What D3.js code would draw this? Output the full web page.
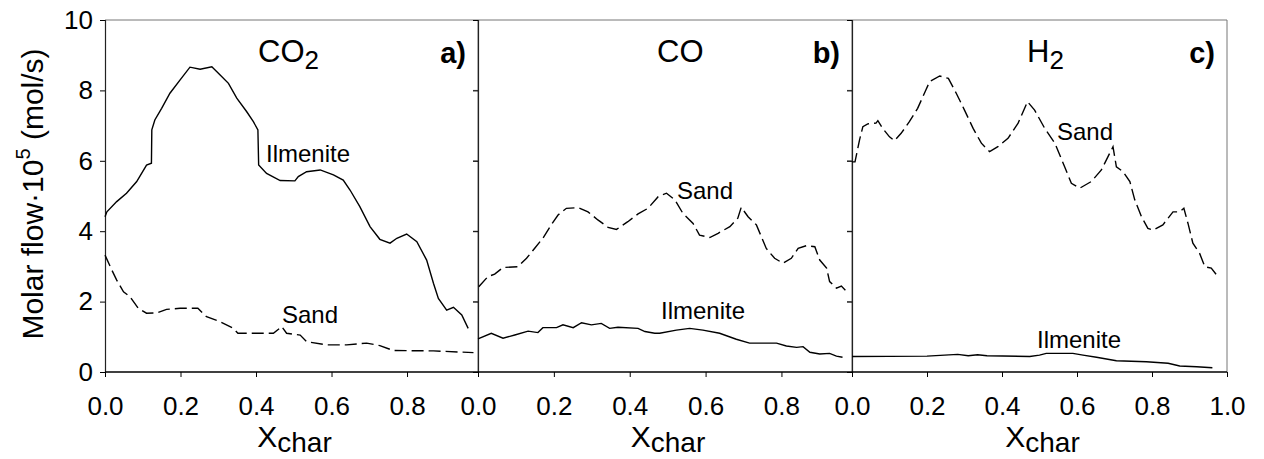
<!DOCTYPE html>
<html lang="en">
<head>
    <meta charset="UTF-8">
    <title>Molar flow vs Xchar</title>
    <style>
        body { margin: 0; background: #fff; }
        svg { display: block; font-family: "Liberation Sans", Arial, sans-serif; }
    </style>
</head>
<body>
    <svg width="1264" height="459"></svg>
    <script src="https://d3js.org/d3.v7.min.js"></script>
    <script>
        // values: [Xchar, molar flow * 1e5]
        const co2Ilmenite = [[0,4.41],[0.005,4.55],[0.031,4.84],[0.057,5.08],[0.084,5.41],[0.110,5.88],[0.123,5.93],[0.124,6.88],[0.132,7.16],[0.150,7.49],[0.172,7.92],[0.199,8.30],[0.225,8.66],[0.252,8.60],[0.283,8.67],[0.305,8.44],[0.327,8.20],[0.349,7.78],[0.375,7.40],[0.393,7.11],[0.405,6.88],[0.407,5.88],[0.428,5.64],[0.464,5.44],[0.503,5.43],[0.512,5.55],[0.534,5.69],[0.570,5.74],[0.605,5.60],[0.631,5.45],[0.649,5.17],[0.675,4.70],[0.702,4.13],[0.728,3.77],[0.755,3.66],[0.773,3.80],[0.799,3.92],[0.826,3.70],[0.852,3.18],[0.870,2.52],[0.883,2.09],[0.905,1.76],[0.923,1.84],[0.945,1.62],[0.962,1.24]]
        const co2Sand = [[0,3.32],[0.018,2.90],[0.031,2.61],[0.049,2.28],[0.066,2.14],[0.088,1.81],[0.110,1.67],[0.137,1.68],[0.163,1.78],[0.199,1.81],[0.246,1.81],[0.269,1.57],[0.305,1.43],[0.340,1.24],[0.352,1.10],[0.446,1.10],[0.468,1.29],[0.481,1.10],[0.517,1.05],[0.534,0.86],[0.587,0.77],[0.640,0.77],[0.693,0.82],[0.728,0.75],[0.764,0.61],[0.870,0.60],[0.976,0.55]]
        const coSand = [[0.002,2.42],[0.026,2.71],[0.044,2.78],[0.066,2.97],[0.105,2.99],[0.128,3.23],[0.149,3.51],[0.171,3.80],[0.193,4.18],[0.211,4.46],[0.233,4.65],[0.264,4.67],[0.290,4.55],[0.316,4.32],[0.343,4.11],[0.365,4.05],[0.395,4.27],[0.422,4.49],[0.448,4.65],[0.475,4.98],[0.497,5.08],[0.519,4.89],[0.540,4.51],[0.567,4.22],[0.584,3.89],[0.611,3.82],[0.633,3.94],[0.664,4.13],[0.685,4.37],[0.694,4.68],[0.712,4.41],[0.734,4.18],[0.760,3.51],[0.782,3.23],[0.804,3.09],[0.826,3.23],[0.844,3.51],[0.866,3.59],[0.888,3.56],[0.901,3.18],[0.919,2.95],[0.927,2.57],[0.945,2.38],[0.958,2.44],[0.976,2.24]]
        const coIlmenite = [[0,0.94],[0.035,1.10],[0.066,0.96],[0.097,1.05],[0.132,1.16],[0.158,1.12],[0.171,1.26],[0.207,1.26],[0.224,1.34],[0.251,1.26],[0.273,1.40],[0.299,1.34],[0.325,1.38],[0.347,1.24],[0.369,1.27],[0.422,1.24],[0.440,1.15],[0.466,1.10],[0.479,1.10],[0.523,1.19],[0.558,1.24],[0.593,1.19],[0.637,1.10],[0.681,0.93],[0.716,0.82],[0.787,0.82],[0.813,0.74],[0.840,0.70],[0.857,0.72],[0.875,0.56],[0.901,0.51],[0.927,0.53],[0.945,0.45],[0.961,0.42]]
        const h2Sand = [[0,5.97],[0.008,5.97],[0.020,6.59],[0.029,6.97],[0.042,7.05],[0.064,7.07],[0.069,7.14],[0.082,6.92],[0.100,6.68],[0.113,6.57],[0.131,6.78],[0.153,7.11],[0.175,7.49],[0.197,8.01],[0.207,8.25],[0.234,8.41],[0.257,8.34],[0.278,7.92],[0.300,7.44],[0.323,6.92],[0.345,6.50],[0.367,6.26],[0.389,6.40],[0.416,6.64],[0.443,7.07],[0.468,7.68],[0.487,7.44],[0.514,6.92],[0.541,6.50],[0.567,5.83],[0.585,5.36],[0.607,5.22],[0.638,5.41],[0.665,5.74],[0.687,6.21],[0.696,6.40],[0.705,5.83],[0.723,5.69],[0.741,5.41],[0.754,4.89],[0.772,4.41],[0.789,4.08],[0.803,4.03],[0.829,4.18],[0.856,4.55],[0.874,4.55],[0.885,4.65],[0.896,4.22],[0.909,3.66],[0.927,3.37],[0.941,2.99],[0.958,2.95],[0.972,2.76]]
        const h2Ilmenite = [[0,0.44],[0.2,0.45],[0.282,0.50],[0.310,0.46],[0.335,0.49],[0.36,0.46],[0.474,0.44],[0.500,0.48],[0.518,0.53],[0.589,0.53],[0.616,0.48],[0.652,0.42],[0.705,0.32],[0.785,0.29],[0.843,0.25],[0.874,0.17],[0.919,0.15],[0.961,0.12]]

        const xTicksShort = [0, 0.2, 0.4, 0.6, 0.8]
        const xTicksFull = [0, 0.2, 0.4, 0.6, 0.8, 1.0]
        const yTicks = [0, 2, 4, 6, 8, 10]

        const svg = d3.select('svg')
        const yTop = 20, yBottom = 372

        const y = d3.scaleLinear().domain([0, 10]).range([yBottom, yTop])

        const panels = [
            { left: 105, right: 478, xMax: 0.988, ticks: xTicksShort, gas: 'CO', sub: '2', gasX: 258, tag: 'a)',
              sand: co2Sand, ilmenite: co2Ilmenite, sandLab: [282, 323], ilmLab: [266, 162], yLabels: true, rightTicks: true },
            { left: 478, right: 852, xMax: 0.986, ticks: xTicksShort, gas: 'CO', sub: '', gasX: 657, tag: 'b)',
              sand: coSand, ilmenite: coIlmenite, sandLab: [677, 199], ilmLab: [661, 319], yLabels: false, rightTicks: true },
            { left: 852, right: 1227, xMax: 1.0, ticks: xTicksFull, gas: 'H', sub: '2', gasX: 1027, tag: 'c)',
              sand: h2Sand, ilmenite: h2Ilmenite, sandLab: [1057, 140], ilmLab: [1037, 348], yLabels: false, rightTicks: false }
        ]

        panels.forEach(p => {
            const x = d3.scaleLinear().domain([0, p.xMax]).range([p.left, p.right])
            const g = svg.append('g')

            // frame: top and right in grey
            g.append('line').attr('x1', p.left).attr('x2', p.right).attr('y1', yTop).attr('y2', yTop)
                .attr('stroke', '#777').attr('stroke-width', 1)
            g.append('line').attr('x1', p.right).attr('x2', p.right).attr('y1', yTop).attr('y2', yBottom)
                .attr('stroke', '#777').attr('stroke-width', 1)
            if (p.rightTicks) {
                g.selectAll('.rt').data(yTicks.slice(1, -1)).enter().append('line')
                    .attr('x1', p.right - 5).attr('x2', p.right)
                    .attr('y1', d => y(d)).attr('y2', d => y(d))
                    .attr('stroke', '#777')
            }

            // left axis
            const yAxis = d3.axisLeft(y).tickValues(yTicks).tickSize(5).tickPadding(7)
                .tickFormat(p.yLabels ? d3.format('d') : '')
            const ya = g.append('g').attr('transform', `translate(${p.left},0)`).call(yAxis)
            ya.select('.domain').attr('stroke', '#222').attr('stroke-width', 1.2)
            ya.selectAll('text').attr('font-size', 26).attr('font-family', '"Liberation Sans", Arial').attr('fill', '#000')

            // bottom axis
            const xAxis = d3.axisBottom(x).tickValues(p.ticks).tickSize(5).tickPadding(20)
                .tickFormat(d3.format('.1f'))
            const xa = g.append('g').attr('transform', `translate(0,${yBottom})`).call(xAxis)
            xa.select('.domain').attr('d', `M${p.left},0H${p.right}`).attr('stroke', '#000').attr('stroke-width', 1.5)
            xa.selectAll('text').attr('font-size', 26).attr('font-family', '"Liberation Sans", Arial').attr('fill', '#000')

            const line = d3.line().x(d => x(d[0])).y(d => y(d[1]))
            g.append('path').datum(p.ilmenite).attr('d', line)
                .attr('fill', 'none').attr('stroke', '#000').attr('stroke-width', 1.4)
            g.append('path').datum(p.sand).attr('d', line)
                .attr('fill', 'none').attr('stroke', '#000').attr('stroke-width', 1.4)
                .attr('stroke-dasharray', '12,5')

            g.append('text').attr('x', p.sandLab[0]).attr('y', p.sandLab[1])
                .attr('font-size', 24).text('Sand')
            g.append('text').attr('x', p.ilmLab[0]).attr('y', p.ilmLab[1])
                .attr('font-size', 24).text('Ilmenite')

            // gas name with subscript
            const gt = g.append('text').attr('x', p.gasX).attr('y', 62).attr('font-size', 31)
            gt.append('tspan').text(p.gas)
            if (p.sub) gt.append('tspan').attr('font-size', 26).attr('dy', 7).text(p.sub)

            g.append('text').attr('x', p.right - 12).attr('y', 63).attr('text-anchor', 'end')
                .attr('font-size', 29).attr('font-weight', 'bold').text(p.tag)

            // x label
            const xl = g.append('text').attr('x', (p.left + p.right) / 2 + 3).attr('y', 447)
                .attr('text-anchor', 'middle').attr('font-size', 30)
            xl.append('tspan').text('X')
            xl.append('tspan').attr('font-size', 28).attr('dy', 5).text('char')
        })

        // y label
        const yl = svg.append('text').attr('transform', 'translate(43,194) rotate(-90)')
            .attr('text-anchor', 'middle').attr('font-size', 30)
        yl.append('tspan').text('Molar flow·10')
        yl.append('tspan').attr('font-size', 20).attr('dy', -13).text('5')
        yl.append('tspan').attr('dy', 13).text(' (mol/s)')
    </script>
</body>
</html>
